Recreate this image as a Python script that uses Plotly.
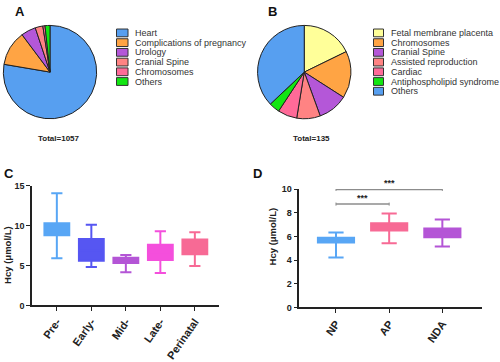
import plotly.graph_objects as go

# ---------------- data ----------------
pie_a_labels = ["Heart", "Complications of pregnancy", "Urology", "Cranial Spine", "Chromosomes", "Others"]
pie_a_values = [821, 128, 54, 28, 8, 18]
pie_a_colors = ["#579ff0", "#ffa444", "#b457d8", "#ff8383", "#ff6a98", "#12e612"]

pie_b_labels = ["Fetal membrane placenta", "Chromosomes", "Cranial Spine", "Assisted reproduction",
                "Cardiac", "Antiphospholipid syndrome", "Others"]
pie_b_values = [24, 22, 14, 11, 9, 5, 50]
pie_b_colors = ["#ffff99", "#ffa444", "#b457d8", "#ff8383", "#ff6a98", "#12e612", "#579ff0"]

c_groups = ["Pre-", "Early-", "Mid-", "Late-", "Perinatal"]
c_low = [5.9, 4.8, 4.15, 4.05, 4.95]
c_q1 = [8.8, 5.6, 5.3, 5.7, 6.4]
c_med = [9.6, 6.9, 5.65, 6.6, 7.3]
c_q3 = [10.3, 8.3, 5.98, 7.6, 8.25]
c_high = [14.05, 10.1, 6.3, 9.3, 9.15]
c_colors = ["#58a6f5", "#5656f2", "#b455d6", "#f44fdc", "#f76a95"]

d_groups = ["NP", "AP", "NDA"]
d_low = [4.22, 5.42, 5.15]
d_q1 = [5.48, 6.49, 5.92]
d_med = [5.7, 6.8, 6.3]
d_q3 = [5.89, 7.12, 6.66]
d_high = [6.33, 7.94, 7.42]
d_colors = ["#58a6f5", "#f76a95", "#b455d6"]

d_comparisons = [("NP", "AP", 8.73, "***"), ("NP", "NDA", 9.97, "***")]

# ---------------- figure ----------------
W, H = 500, 362
FONT = "Liberation Sans, Arial, sans-serif"
def px(x):
    return x / W
def py(y):
    return 1 - y / H

fig = go.Figure()

fig.add_trace(go.Pie(labels=pie_a_labels, values=pie_a_values, sort=False, direction="clockwise",
                     rotation=0, textinfo="none", hoverinfo="label+value", showlegend=False,
                     marker=dict(colors=pie_a_colors, line=dict(color="#222222", width=1)),
                     domain=dict(x=[px(2), px(98)], y=[py(117), py(21)])))
fig.add_trace(go.Pie(labels=pie_b_labels, values=pie_b_values, sort=False, direction="clockwise",
                     rotation=0, textinfo="none", hoverinfo="label+value", showlegend=False,
                     marker=dict(colors=pie_b_colors, line=dict(color="#222222", width=1)),
                     domain=dict(x=[px(256.5), px(352)], y=[py(117), py(21)])))

for i, g in enumerate(c_groups):
    fig.add_trace(go.Box(x=[g], q1=[c_q1[i]], median=[c_med[i]], q3=[c_q3[i]],
                         lowerfence=[c_low[i]], upperfence=[c_high[i]],
                         marker_color=c_colors[i], fillcolor=c_colors[i],
                         line=dict(color=c_colors[i], width=2), width=0.72, whiskerwidth=0.45,
                         showlegend=False, xaxis="x", yaxis="y"))

for i, g in enumerate(d_groups):
    fig.add_trace(go.Box(x=[g], q1=[d_q1[i]], median=[d_med[i]], q3=[d_q3[i]],
                         lowerfence=[d_low[i]], upperfence=[d_high[i]],
                         marker_color=d_colors[i], fillcolor=d_colors[i],
                         line=dict(color=d_colors[i], width=2), width=0.68, whiskerwidth=0.42,
                         showlegend=False, xaxis="x2", yaxis="y2"))

axis_common = dict(showline=True, linecolor="#222222", linewidth=1.5, ticks="outside",
                   ticklen=4, tickwidth=1.2, tickcolor="#222222", showgrid=False, zeroline=False)
ytick_font = dict(family=FONT, size=9, color="#222222", weight="bold")
xtick_font = dict(family=FONT, size=11, color="#222222", weight="bold")

fig.update_layout(
    width=W, height=H, margin=dict(l=0, r=0, t=0, b=0),
    paper_bgcolor="white", plot_bgcolor="white", boxmode="overlay",
    xaxis=dict(domain=[px(32), px(219)], range=[-0.72, 4.7], type="category",
               tickangle=-55, anchor="y", tickfont=xtick_font, **axis_common),
    yaxis=dict(domain=[py(309), py(185.7)], range=[0, 15], tickvals=[0, 5, 10, 15], anchor="x",
               tickfont=ytick_font, **axis_common),
    xaxis2=dict(domain=[px(299.3), px(481.7)], range=[-0.69, 2.74], type="category",
                tickangle=-55, anchor="y2", tickfont=xtick_font, **axis_common),
    yaxis2=dict(domain=[py(311), py(189.3)], range=[0, 10], tickvals=[0, 2, 4, 6, 8, 10], anchor="x2",
                tickfont=ytick_font, **axis_common),
)

shapes = []
annotations = []

# manual legends
def add_legend(labels, colors, box_x0, box_x1, text_x, y0):
    for i, (lab, col) in enumerate(zip(labels, colors)):
        yc = y0 + i * 10
        shapes.append(dict(type="rect", xref="paper", yref="paper",
                           x0=px(box_x0), x1=px(box_x1), y0=py(yc + 4), y1=py(yc - 4),
                           fillcolor=col, line=dict(color="#333333", width=1)))
        annotations.append(dict(text=lab, xref="paper", yref="paper", x=px(text_x), y=py(yc),
                                xanchor="left", yanchor="middle", showarrow=False,
                                font=dict(family=FONT, size=9, color="#333333")))

add_legend(pie_a_labels, pie_a_colors, 116.5, 128, 132.5, 28.7)
add_legend(pie_b_labels, pie_b_colors, 373.5, 383.5, 389, 28.7)

annotations.append(dict(text="Total=" + str(sum(pie_a_values)), xref="paper", yref="paper",
                        x=px(58.5), y=py(137), showarrow=False, xanchor="center", yanchor="middle",
                        font=dict(family=FONT, size=8, color="#222222", weight="bold")))
annotations.append(dict(text="Total=" + str(sum(pie_b_values)), xref="paper", yref="paper",
                        x=px(311), y=py(137), showarrow=False, xanchor="center", yanchor="middle",
                        font=dict(family=FONT, size=8, color="#222222", weight="bold")))

for letter, x, y in [("A", 20, 7), ("B", 272, 7), ("C", 9, 173), ("D", 257, 173)]:
    annotations.append(dict(text=letter, xref="paper", yref="paper", x=px(x), y=py(y),
                            showarrow=False, xanchor="center", yanchor="middle",
                            font=dict(family=FONT, size=13, color="#111111", weight="bold")))

for x, y in [(8, 257), (272, 238)]:
    annotations.append(dict(text="Hcy (μmol/L)", xref="paper", yref="paper", x=px(x), y=py(y),
                            showarrow=False, textangle=-90, xanchor="center", yanchor="middle",
                            font=dict(family=FONT, size=9.5, color="#222222", weight="bold")))

# significance brackets
for a, b, yv, lab in d_comparisons:
    ia, ib = d_groups.index(a), d_groups.index(b)
    shapes.append(dict(type="line", xref="x2", yref="y2", x0=ia, x1=ib, y0=yv, y1=yv,
                       line=dict(color="#8c8c8c", width=1.5)))
    for xe in (ia, ib):
        shapes.append(dict(type="line", xref="x2", yref="y2", x0=xe, x1=xe, y0=yv - 0.13, y1=yv + 0.13,
                           line=dict(color="#8c8c8c", width=1)))
    annotations.append(dict(text=lab, xref="x2", yref="y2", x=(ia + ib) / 2, y=yv,
                            yshift=6, showarrow=False, xanchor="center", yanchor="middle",
                            font=dict(family=FONT, size=9, color="#222222", weight="bold")))

fig.update_layout(shapes=shapes, annotations=annotations)

fig.write_html("out.html", config={"displayModeBar": False},
               post_script="document.body.style.margin='0';document.body.style.padding='0';")
